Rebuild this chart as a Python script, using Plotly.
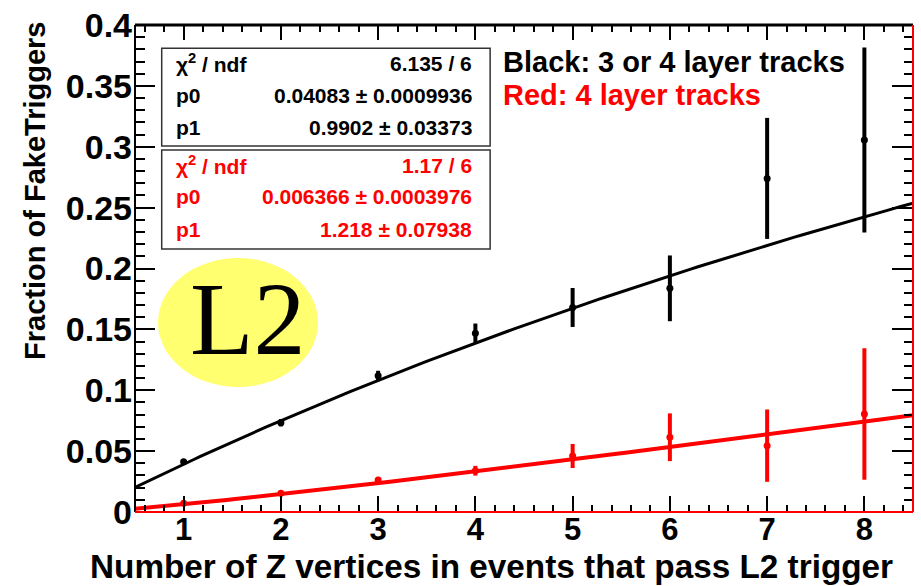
import numpy as np
import plotly.graph_objects as go

# ---- data ----
n_vertices = [1, 2, 3, 4, 5, 6, 7, 8]
black_frac = [0.0413, 0.0733, 0.1120, 0.1468, 0.1680, 0.1837, 0.2740, 0.3055]
black_err = [0.0020, 0.0030, 0.0040, 0.0080, 0.0160, 0.0270, 0.0497, 0.0760]
red_frac = [0.0071, 0.0154, 0.0263, 0.0339, 0.0460, 0.0614, 0.0545, 0.0805]
red_err = [0.0015, 0.0020, 0.0025, 0.0040, 0.0099, 0.0196, 0.0297, 0.0540]

black_fit = {"chi2": "6.135 / 6", "p0": 0.04083, "p0e": "0.0009936", "p1": 0.9902, "p1e": "0.03373"}
red_fit = {"chi2": "1.17 / 6", "p0": 0.006366, "p0e": "0.0003976", "p1": 1.218, "p1e": "0.07938"}

x_ticks = [1, 2, 3, 4, 5, 6, 7, 8]
x_ticklabels = ["1", "2", "3", "4", "5", "6", "7", "8"]
y_ticks = [0, 0.05, 0.1, 0.15, 0.2, 0.25, 0.3, 0.35, 0.4]
y_ticklabels = ["0", "0.05", "0.1", "0.15", "0.2", "0.25", "0.3", "0.35", "0.4"]

# fit curves from the printed fit parameters: f = p0*x^p1 / (1 + p0*x^p1)
xf = np.linspace(0.5, 8.5, 120)
def fitfun(p0, p1, x):
    v = p0 * x ** p1
    return v / (1 + v)

W, H = 921, 586
L, R, T, B = 135, 912.7, 25, 512

def px(xp):
    return (xp - L) / (R - L)

def py(yp):
    return (B - yp) / (B - T)

FONT = "Liberation Sans, Arial, sans-serif"

fig = go.Figure()
fig.add_trace(go.Scatter(x=xf, y=fitfun(black_fit["p0"], black_fit["p1"], xf), mode="lines",
                         line=dict(color="black", width=3), hoverinfo="skip", showlegend=False))
fig.add_trace(go.Scatter(x=xf, y=fitfun(red_fit["p0"], red_fit["p1"], xf), mode="lines",
                         line=dict(color="#ff0000", width=4), hoverinfo="skip", showlegend=False))
fig.add_trace(go.Scatter(x=n_vertices, y=black_frac, mode="markers",
                         marker=dict(color="black", size=7, symbol="circle"),
                         error_y=dict(type="data", array=black_err, color="black", thickness=4, width=0),
                         showlegend=False))
fig.add_trace(go.Scatter(x=n_vertices, y=red_frac, mode="markers",
                         marker=dict(color="#ff0000", size=7, symbol="circle"),
                         error_y=dict(type="data", array=red_err, color="#ff0000", thickness=4, width=0),
                         showlegend=False))
# invisible trace to activate the mirrored (top/right) tick axes
fig.add_trace(go.Scatter(x=[1], y=[0.1], xaxis="x2", yaxis="y2", mode="markers",
                         marker=dict(opacity=0, size=1), hoverinfo="skip", showlegend=False))

shapes = []
# L2 ellipse
shapes.append(dict(type="circle", xref="paper", yref="paper",
                   x0=px(158), x1=px(318), y0=py(387), y1=py(258),
                   fillcolor="#ffff70", line=dict(width=0), layer="below"))
# stat boxes
for (y0, y1) in [(48.3, 146), (150, 249)]:
    shapes.append(dict(type="rect", xref="paper", yref="paper",
                       x0=px(161.7), x1=px(490), y0=py(y1), y1=py(y0),
                       fillcolor="white", line=dict(color="#333333", width=1.5)))
# frame: red bottom & right edges, black top & left
shapes.append(dict(type="line", xref="paper", yref="paper", x0=0, x1=0, y0=0, y1=1,
                   line=dict(color="black", width=2)))
shapes.append(dict(type="line", xref="paper", yref="paper", x0=0, x1=1, y0=1, y1=1,
                   line=dict(color="black", width=3)))
shapes.append(dict(type="line", xref="paper", yref="paper", x0=0, x1=1, y0=0, y1=0,
                   line=dict(color="#ff0000", width=2)))
shapes.append(dict(type="line", xref="paper", yref="paper", x0=1, x1=1, y0=0, y1=1,
                   line=dict(color="#ff0000", width=2)))

ann = []
def text(x, y, s, size, color="black", xanchor="left", bold=True, family=FONT, angle=0, yanchor="middle"):
    ann.append(dict(xref="paper", yref="paper", x=px(x), y=py(y), text=(f"<b>{s}</b>" if bold else s),
                    showarrow=False, xanchor=xanchor, yanchor=yanchor, textangle=angle,
                    font=dict(size=size, color=color, family=family)))

# stats text
rows_b = [63.3, 95, 127.3]
rows_r = [165, 196.7, 229.3]
SF = 21
for rows, fit, col in [(rows_b, black_fit, "black"), (rows_r, red_fit, "#ff0000")]:
    text(174, rows[0], "χ<sup>2</sup> / ndf", SF, col)
    text(174, rows[1], "p0", SF, col)
    text(174, rows[2], "p1", SF, col)
    text(474, rows[0], fit["chi2"], SF, col, xanchor="right")
    text(474, rows[1], f"{fit['p0']} ± {fit['p0e']}", SF, col, xanchor="right")
    text(474, rows[2], f"{fit['p1']} ± {fit['p1e']}", SF, col, xanchor="right")

text(501, 61.7, "Black: 3 or 4 layer tracks", 29, "black")
text(501, 95, "Red: 4 layer tracks", 29, "#ff0000")
text(248, 318, "L2", 104, "black", xanchor="center", bold=False,
     family="Liberation Serif, Times New Roman, serif")

# axis titles
text(895, 566, "Number of Z vertices in events that pass L2 trigger", 33.3, "black", xanchor="right")
ann.append(dict(xref="paper", yref="paper", x=px(35), y=py(20), text="<b>Fraction of FakeTriggers</b>",
                showarrow=False, xanchor="center", yanchor="top", textangle=-90,
                font=dict(size=29, color="black", family=FONT)))

common = dict(showgrid=False, zeroline=False, automargin=False)
fig.update_layout(
    width=W, height=H,
    margin=dict(l=L, r=W - R, t=T, b=H - B),
    paper_bgcolor="white", plot_bgcolor="white",
    shapes=shapes, annotations=ann,
    xaxis=dict(range=[0.5, 8.5], tickvals=x_ticks, ticktext=[f"<b>{t}</b>" for t in x_ticklabels],
               ticks="inside", ticklen=16, tickwidth=1.5, tickcolor="black",
               minor=dict(dtick=0.2, tick0=0, ticks="inside", ticklen=7, tickwidth=1.5, tickcolor="black"),
               showline=False,
               tickfont=dict(size=31, family=FONT, color="black"), ticklabelstandoff=-4, **common),
    yaxis=dict(range=[0, 0.4], tickvals=y_ticks, ticktext=[f"<b>{t}</b>" for t in y_ticklabels],
               ticks="inside", ticklen=20, tickwidth=1.5, tickcolor="black",
               minor=dict(dtick=0.01, tick0=0, ticks="inside", ticklen=10, tickwidth=1.5, tickcolor="black"),
               showline=False,
               tickfont=dict(size=34, family=FONT, color="black"), ticklabelstandoff=2, **common),
    xaxis2=dict(range=[0.5, 8.5], overlaying="x", side="top", tickvals=x_ticks, showticklabels=False,
                ticks="inside", ticklen=15, tickwidth=1.5, tickcolor="black",
                minor=dict(dtick=0.2, tick0=0, ticks="inside", ticklen=7, tickwidth=1.5, tickcolor="black"),
                showline=False, **common),
    yaxis2=dict(range=[0, 0.4], overlaying="y", side="right", tickvals=y_ticks, showticklabels=False,
                ticks="inside", ticklen=21, tickwidth=1.5, tickcolor="black",
                minor=dict(dtick=0.01, tick0=0, ticks="inside", ticklen=9, tickwidth=1.5, tickcolor="black"),
                showline=False, **common),
)

fig.write_html("out.html", config={"displayModeBar": False},
               post_script="document.body.style.margin='0';document.body.style.overflow='hidden';")
